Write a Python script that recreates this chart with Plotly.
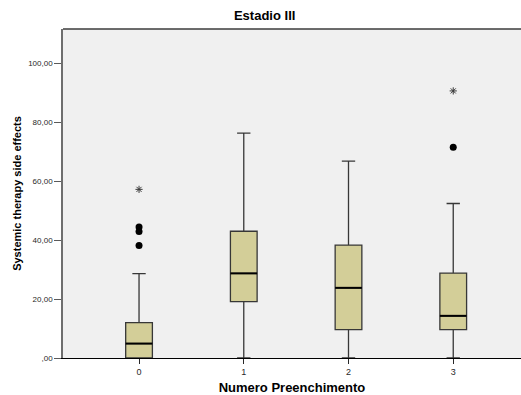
import plotly.graph_objects as go

categories = ["0", "1", "2", "3"]
x_pos = [0, 1, 2, 3]
q1 = [0.0, 19.1, 9.6, 9.6]
median = [4.9, 28.7, 23.8, 14.3]
q3 = [12.0, 43.0, 38.3, 28.8]
lower = [0.0, 0.0, 0.0, 0.0]
upper = [28.6, 76.3, 66.8, 52.4]

outlier_x = [0, 0, 0, 3]
outlier_y = [44.4, 42.9, 38.2, 71.5]
extreme_x = [0, 3]
extreme_y = [57.2, 90.6]

y_tickvals = [0, 20, 40, 60, 80, 100]
y_ticktext = [",00", "20,00", "40,00", "60,00", "80,00", "100,00"]

FONT = "Liberation Sans, Arial, sans-serif"
BOX_W = 0.255

fig = go.Figure()
fig.add_trace(go.Box(
    x=x_pos, q1=q1, median=median, q3=q3,
    lowerfence=lower, upperfence=upper,
    fillcolor="rgb(211,206,152)",
    line=dict(color="rgb(55,55,55)", width=1.3),
    width=BOX_W, whiskerwidth=0.5,
    boxpoints=False, showlegend=False, hoverinfo="skip",
))
# thicker median lines, derived from the data arrays
mx, my = [], []
for p, m in zip(x_pos, median):
    mx += [p - BOX_W / 2, p + BOX_W / 2, None]
    my += [m, m, None]
fig.add_trace(go.Scatter(x=mx, y=my, mode="lines",
                         line=dict(color="black", width=2),
                         showlegend=False, hoverinfo="skip"))
fig.add_trace(go.Scatter(
    x=outlier_x, y=outlier_y, mode="markers",
    marker=dict(symbol="circle", size=7, color="black"),
    showlegend=False,
))
fig.add_trace(go.Scatter(
    x=extreme_x, y=extreme_y, mode="markers",
    marker=dict(symbol="asterisk-open", size=6, color="rgb(60,60,60)",
                line=dict(width=1, color="rgb(60,60,60)")),
    showlegend=False,
))

fig.update_layout(
    width=521, height=395,
    margin=dict(l=63, r=0, t=29, b=37),
    paper_bgcolor="white",
    plot_bgcolor="rgb(240,240,240)",
    font=dict(family=FONT, size=8, color="rgb(40,40,40)"),
    title=dict(text="<b>Estadio III</b>", x=0.508, xanchor="center",
               y=0.96, yanchor="middle",
               font=dict(family=FONT, size=13, color="black")),
    xaxis=dict(
        range=[-0.726, 3.647],
        tickvals=x_pos, ticktext=categories,
        ticks="outside", ticklen=5, tickcolor="rgb(40,40,40)", tickwidth=1,
        showgrid=False, zeroline=False,
        showline=True, linecolor="black", linewidth=1,
        title=dict(text="<b>Numero Preenchimento</b>", standoff=8,
                   font=dict(family=FONT, size=13, color="black")),
        tickfont=dict(size=9, color="rgb(40,40,40)"),
    ),
    yaxis=dict(
        range=[0, 111.6],
        tickvals=y_tickvals, ticktext=y_ticktext,
        ticks="outside", ticklen=7, tickcolor="rgb(90,90,90)", tickwidth=1,
        showgrid=False, zeroline=False,
        showline=True, linecolor="rgb(110,110,110)", linewidth=1.5,
        title=dict(text="<b>Systemic therapy side effects</b>", standoff=4,
                   font=dict(family=FONT, size=11, color="black")),
        tickfont=dict(size=8, color="rgb(40,40,40)"),
    ),
    shapes=[dict(type="line", xref="paper", yref="paper", x0=0, x1=1, y0=1, y1=1,
                 line=dict(color="rgb(60,60,60)", width=1.5))],
)

fig.write_html("out.html")
